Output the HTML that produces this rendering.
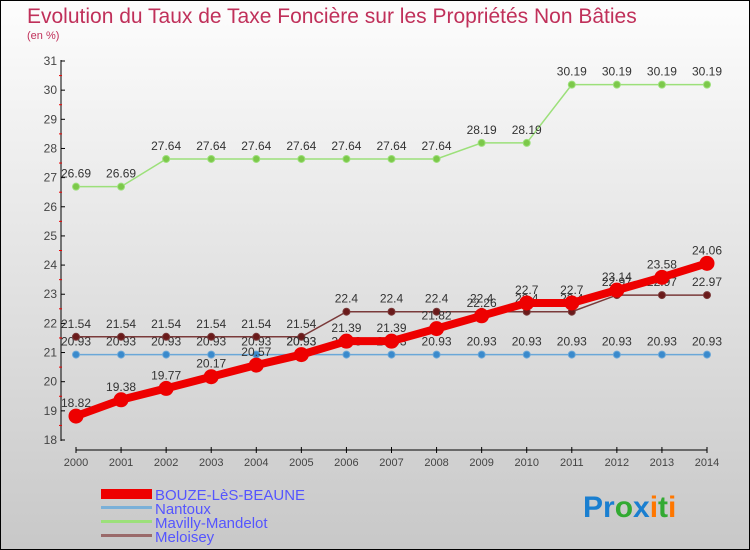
<!DOCTYPE html>
<html><head><meta charset="utf-8"><style>
body{margin:0}
#c{width:748px;height:548px;border:1px solid #000;background:linear-gradient(#fdfdfd,#c8c8c8);position:relative;font-family:"Liberation Sans",sans-serif;overflow:hidden}
</style></head><body>
<div id="c">
<svg id="s" width="748" height="548" style="position:absolute;left:0;top:0">
<text x="26" y="22" font-size="21" fill="#c0305a">Evolution du Taux de Taxe Foncière sur les Propriétés Non Bâties</text>
<text x="26" y="38" font-size="11" fill="#c0305a">(en %)</text>
<g id="ax"></g><g id="mk"></g>
<g>
<rect x="100" y="488" width="51" height="10" fill="#e00"/>
<text x="154" y="499" font-size="15" fill="#55f">BOUZE-LèS-BEAUNE</text>
<rect x="100" y="505" width="51" height="3" fill="#7ab0d8"/>
<text x="154" y="513" font-size="15" fill="#55f">Nantoux</text>
<rect x="100" y="519" width="51" height="3" fill="#9ce07a"/>
<text x="154" y="527" font-size="15" fill="#55f">Mavilly-Mandelot</text>
<rect x="100" y="533" width="51" height="3" fill="#9a6a6a"/>
<text x="154" y="541" font-size="15" fill="#55f">Meloisey</text>
</g>
<text x="582" y="516" font-size="30" font-weight="bold"><tspan fill="#1a7fd0">Pr</tspan><tspan fill="#3a3">o</tspan><tspan fill="#1a7fd0">x</tspan><tspan fill="#f70">i</tspan><tspan fill="#3a3">t</tspan><tspan fill="#f70">i</tspan></text>
</svg></div>
<script>
const years=[2000,2001,2002,2003,2004,2005,2006,2007,2008,2009,2010,2011,2012,2013,2014];
const bouze=[18.82,19.38,19.77,20.17,20.57,20.93,21.39,21.39,21.82,22.26,22.7,22.7,23.14,23.58,24.06];
const nantoux=[20.93,20.93,20.93,20.93,20.93,20.93,20.93,20.93,20.93,20.93,20.93,20.93,20.93,20.93,20.93];
const mavilly=[26.69,26.69,27.64,27.64,27.64,27.64,27.64,27.64,27.64,28.19,28.19,30.19,30.19,30.19,30.19];
const meloisey=[21.54,21.54,21.54,21.54,21.54,21.54,22.4,22.4,22.4,22.4,22.4,22.4,22.97,22.97,22.97];
const yTicks=[18,19,20,21,22,23,24,25,26,27,28,29,30,31];
const NS="http://www.w3.org/2000/svg";
const X=i=>75+i*(631/(years.length-1));
const Y=v=>439-(v-18)*(379/13);
function el(t,a,p){const e=document.createElementNS(NS,t);for(const k in a)e.setAttribute(k,a[k]);p.appendChild(e);return e;}
const ax=document.getElementById('ax'),mk=document.getElementById('mk');
let l=el('line',{x1:60,y1:59,x2:60,y2:440,stroke:'#000'},ax);


l=el('line',{x1:75,y1:449,x2:706,y2:449,stroke:'#000'},ax);


yTicks.forEach(v=>{
 el('line',{x1:60,y1:Y(v),x2:64,y2:Y(v),stroke:'#000'},ax);
 if(v<31)el('line',{x1:58,y1:Y(v+0.5),x2:61,y2:Y(v+0.5),stroke:'#e00'},ax);
 const t=el('text',{x:56,y:Y(v)+4,'font-size':12,fill:'#444','text-anchor':'end'},ax);
 
 
 t.textContent=v;
});
years.forEach((y,i)=>{
 el('line',{x1:X(i),y1:446,x2:X(i),y2:452,stroke:'#000'},ax);
 const t=el('text',{x:X(i),y:465,'font-size':11,fill:'#444','text-anchor':'middle'},ax);
 
 
 t.textContent=y;
});
function series(d,col,w,r,name,lc){
 const g=el('g',{},mk);
 
 
 el('polyline',{points:d.map((v,i)=>X(i)+','+Y(v)).join(' '),fill:'none',stroke:col,'stroke-width':w},g);
 d.forEach((v,i)=>{
  const c=el('circle',{cx:X(i),cy:Y(v),r:r,fill:lc,stroke:col,'stroke-width':1},g);
  
  
  const t=el('text',{x:X(i),y:Y(v)-9,'font-size':12,fill:'#333','text-anchor':'middle'},g);
  
  
  t.textContent=v;
 });
}
series(mavilly,'#9ce07a',1.5,3.5,'mavilly','#7cc84a');
series(nantoux,'#6aa7d8',1.5,3.5,'nantoux','#3a8acc');
series(meloisey,'#7a3a3a',1.5,3.5,'meloisey','#6a1a1a');
series(bouze,'#ee0000',8,7,'bouze','#ee0000');
</script>
</body></html>
